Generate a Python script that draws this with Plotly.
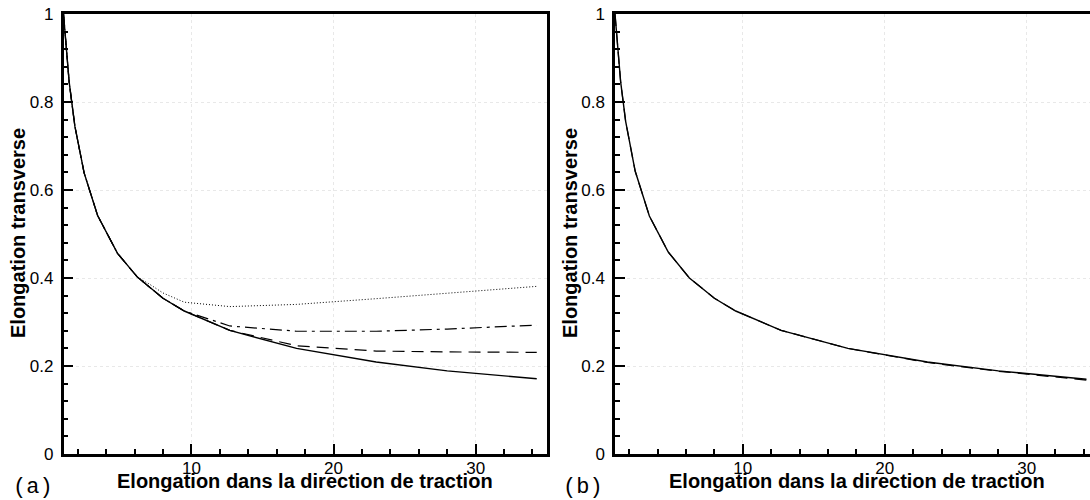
import plotly.graph_objects as go

# ---------------- data ----------------
x_solid = [1.0, 1.2, 1.4, 1.8, 2.45, 3.4, 4.8, 6.2, 8.0, 9.5, 12.7, 17.4, 23.0, 28.0, 34.3]
y_solid = [1.0, 0.913, 0.845, 0.745, 0.639, 0.542, 0.456, 0.402, 0.354, 0.325, 0.281, 0.240, 0.209, 0.189, 0.171]

x_dot = [1.0, 1.2, 1.4, 1.8, 2.45, 3.4, 4.8, 6.2, 7.1, 8.0, 9.5, 12.7, 17.4, 23.0, 28.0, 34.3]
y_dot = [1.0, 0.913, 0.845, 0.745, 0.639, 0.542, 0.456, 0.402, 0.385, 0.366, 0.345, 0.335, 0.340, 0.353, 0.366, 0.381]

x_dashdot = [1.0, 1.2, 1.4, 1.8, 2.45, 3.4, 4.8, 6.2, 8.0, 9.5, 12.7, 17.4, 23.0, 28.0, 34.3]
y_dashdot = [1.0, 0.913, 0.845, 0.745, 0.639, 0.542, 0.456, 0.402, 0.354, 0.325, 0.291, 0.279, 0.279, 0.284, 0.293]

x_dash = [1.0, 1.2, 1.4, 1.8, 2.45, 3.4, 4.8, 6.2, 8.0, 9.5, 12.7, 17.4, 23.0, 28.0, 34.3]
y_dash = [1.0, 0.913, 0.845, 0.745, 0.639, 0.542, 0.456, 0.402, 0.354, 0.325, 0.281, 0.246, 0.234, 0.232, 0.231]

x_b = [1.0, 1.2, 1.4, 1.75, 2.42, 3.42, 4.75, 6.24, 8.0, 9.5, 12.7, 17.4, 23.0, 28.0, 34.2]
y_b_solid = [1.0, 0.913, 0.845, 0.756, 0.643, 0.541, 0.459, 0.400, 0.354, 0.325, 0.281, 0.240, 0.209, 0.189, 0.170]
y_b_dash = [1.0, 0.913, 0.845, 0.756, 0.643, 0.541, 0.459, 0.400, 0.354, 0.325, 0.281, 0.240, 0.208, 0.188, 0.168]

x_ticks = [10, 20, 30]
y_ticks = [0, 0.2, 0.4, 0.6, 0.8, 1]

x_title = "Elongation dans la direction de traction"
y_title = "Elongation transverse"
panel_labels = ["(a)", "(b)"]

# ---------------- figure ----------------
W, H = 1090, 500
fig = go.Figure()

def line(x, y, dash, width, xa, ya):
    fig.add_trace(go.Scatter(x=x, y=y, mode="lines", xaxis=xa, yaxis=ya,
                             line=dict(color="black", width=width, dash=dash),
                             showlegend=False, hoverinfo="skip"))

line(x_dot, y_dot, "1px,2px", 1.0, "x", "y")
line(x_dashdot, y_dashdot, "12px,5px,3px,5px", 1.2, "x", "y")
line(x_dash, y_dash, "12px,7px", 1.2, "x", "y")
line(x_solid, y_solid, "solid", 1.4, "x", "y")

line(x_b, y_b_dash, "12px,7px", 1.2, "x2", "y2")
line(x_b, y_b_solid, "solid", 1.4, "x2", "y2")

font_tick = dict(family="Liberation Sans, Arial, sans-serif", size=17, color="black")

def xax(domain, rng, anchor, mirror=True):
    return dict(domain=domain, range=rng, anchor=anchor, automargin=False,
                tickmode="array", tickvals=x_ticks, ticks="inside", ticklen=10, tickwidth=2,
                tickcolor="black", showline=True, linecolor="black", linewidth=2.5, mirror=mirror,
                showgrid=True, gridcolor="#e8e8e8", griddash="dot", gridwidth=1,
                zeroline=False, tickfont=font_tick, ticklabelstandoff=-3,
                minor=dict(tick0=0, dtick=2, ticks="inside", ticklen=5, tickwidth=1.5,
                           tickcolor="black", showgrid=False))

def yax(domain, anchor, mirror=True):
    return dict(domain=domain, range=[0, 1], anchor=anchor, automargin=False,
                tickmode="array", tickvals=y_ticks, ticks="inside", ticklen=10, tickwidth=2,
                tickcolor="black", showline=True, linecolor="black", linewidth=2.5, mirror=mirror,
                showgrid=True, gridcolor="#e8e8e8", griddash="dot", gridwidth=1,
                zeroline=False, tickfont=font_tick, ticklabelstandoff=4,
                minor=dict(tick0=0, dtick=0.04, ticks="inside", ticklen=5, tickwidth=1.5,
                           tickcolor="black", showgrid=False))

ydom = [(H - 454) / H, (H - 14) / H]
xa_dom = [63.5 / W, 546.7 / W]
xb_dom = [615 / W, 1.0]
xb_right = 1 + (1090 - 615) / 14.2

fig.update_layout(
    width=W, height=H,
    margin=dict(l=0, r=0, t=0, b=0, autoexpand=False),
    paper_bgcolor="white", plot_bgcolor="white",
    xaxis=xax(xa_dom, [1, 35], "y"),
    yaxis=yax(ydom, "x"),
    xaxis2=xax(xb_dom, [1, xb_right], "y2"),
    yaxis2=yax(ydom, "x2", mirror=False),
)

title_font = dict(family="Liberation Sans, Arial, sans-serif", size=20, color="black")
label_font = dict(family="Liberation Mono, Courier New, monospace", size=22, color="black")

ann = []
for xc, lx in [((63.5 + 546.7) / 2, 18), ((615 + 1098) / 2, 570)]:
    ann.append(dict(x=xc / W, y=(H - 481) / H, xref="paper", yref="paper",
                    text="<b>" + x_title + "</b>", showarrow=False, font=title_font,
                    xanchor="center", yanchor="middle"))
    ann.append(dict(x=lx / W, y=(H - 233) / H, xref="paper", yref="paper",
                    text="<b>" + y_title + "</b>", showarrow=False, font=title_font,
                    textangle=-90, xanchor="center", yanchor="middle"))
ann.append(dict(x=33 / W, y=(H - 487) / H, xref="paper", yref="paper", text=panel_labels[0],
                showarrow=False, font=label_font, xanchor="center", yanchor="middle"))
ann.append(dict(x=583 / W, y=(H - 487) / H, xref="paper", yref="paper", text=panel_labels[1],
                showarrow=False, font=label_font, xanchor="center", yanchor="middle"))
fig.update_layout(annotations=ann)

fig.write_html("out.html", config={"displayModeBar": False},
               post_script="document.body.style.margin='0';document.body.style.overflow='hidden';")
